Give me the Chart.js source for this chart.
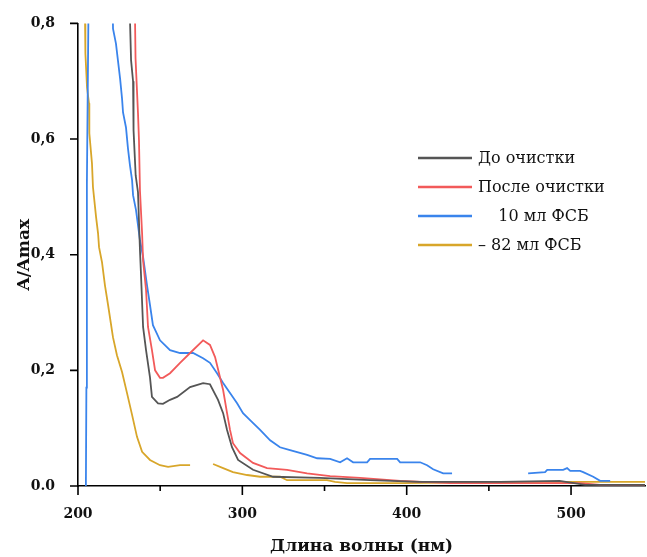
<!DOCTYPE html>
<html><head><meta charset="utf-8">
<script src="https://cdn.jsdelivr.net/npm/chart.js@4"></script>
<style>html,body{margin:0;padding:0;background:#fff}</style>
</head><body>
<canvas id="c" width="647" height="557"></canvas>
<script>
const seriesLabels = ["До очистки", "После очистки", "    10 мл ФСБ", "– 82 мл ФСБ"];
const seriesColors = ["#555555", "#f25a5a", "#3a84ec", "#d8a62a"];
const xTitle = "Длина волны (нм)";
const yTitle = "A/Amax";
const xTicks = [200, 300, 400, 500];
const xMinorTicks = [250, 350, 450];
const yTicks = [0, 0.2, 0.4, 0.6, 0.8];
const yTickLabels = ["0.0", "0,2", "0,4", "0,6", "0,8"];

const beforeX = [231.2,232.3,233.5,233.8,235.1,236.5,237.7,238.3,239.6,241.4,243.8,245.0,248.7,251.7,256.0,260.3,268.2,276.1,280.3,285.2,288.3,290.7,293.7,297.4,306.5,318.7,347.0,377.7,408.0,457.0,493.0,508.6,545.0];
const beforeY = [0.85,0.736,0.70,0.615,0.537,0.508,0.408,0.368,0.275,0.235,0.188,0.154,0.143,0.142,0.149,0.154,0.171,0.178,0.176,0.149,0.126,0.097,0.067,0.045,0.028,0.016,0.014,0.010,0.007,0.007,0.009,0.002,0.002];

const afterX = [234.5,235.0,236.5,237.1,237.7,239.0,239.6,241.4,242.6,245.0,246.9,249.9,251.7,256.0,262.1,268.2,276.1,280.3,283.4,286.4,288.3,290.7,292.5,294.3,298.6,306.5,315.0,327.2,339.4,353.4,371.6,396.0,426.4,505.5,517.7,545.0];
const afterY = [0.85,0.74,0.645,0.598,0.511,0.437,0.39,0.339,0.275,0.235,0.20,0.187,0.187,0.195,0.213,0.23,0.252,0.244,0.223,0.188,0.166,0.126,0.097,0.074,0.057,0.040,0.031,0.028,0.022,0.017,0.014,0.009,0.005,0.005,0.002,0.002];

const pbs10X = [204.8,205.1,205.4,206.3,206.8,221.0,221.3,223.1,224.3,225.6,226.8,227.4,229.2,230.4,231.6,232.9,233.5,235.3,236.5,237.7,239.6,242.0,243.8,245.6,249.9,256.0,262.1,270.0,276.1,280.3,284.6,288.3,292.5,296.8,300.4,304.7,310.8,316.9,322.9,329.0,339.4,345.5,353.4,359.5,363.7,367.4,375.9,377.7,394.2,396.0,408.2,412.4,416.1,422.2,427.6,430.0,473.9,484.2,485.5,495.2,497.6,499.5,505.5,507.4,513.5,517.7,523.8];
const pbs10Y = [0,0.17,0.52,0.80,1.2,0.85,0.791,0.765,0.736,0.705,0.670,0.646,0.620,0.584,0.555,0.529,0.503,0.477,0.451,0.425,0.396,0.347,0.313,0.278,0.252,0.235,0.230,0.230,0.221,0.213,0.195,0.178,0.161,0.143,0.126,0.114,0.097,0.079,0.067,0.062,0.054,0.048,0.047,0.041,0.048,0.041,0.041,0.047,0.047,0.041,0.041,0.036,0.029,0.022,0.022,null,0.022,0.024,0.028,0.028,0.031,0.026,0.026,0.024,0.016,0.009,0.009];

const pbs82X = [203.9,204.3,204.5,205.5,206.7,206.9,208.5,209.1,211.0,212.2,212.8,214.6,216.4,218.3,221.3,223.7,226.8,229.8,232.9,235.9,239.0,243.8,249.9,254.8,262.1,268.2,275.0,282.2,288.3,294.3,302.9,310.8,323.0,327.2,351.5,356.4,363.7,397.8,469.0,545.0];
const pbs82Y = [1.2,0.80,0.748,0.689,0.662,0.61,0.558,0.517,0.465,0.437,0.413,0.387,0.347,0.313,0.257,0.226,0.197,0.161,0.123,0.085,0.059,0.045,0.036,0.033,0.036,0.036,null,0.038,0.031,0.024,0.019,0.016,0.016,0.010,0.010,0.007,0.005,0.005,0.007,0.007];

const seriesX = [beforeX, afterX, pbs10X, pbs82X];
const seriesY = [beforeY, afterY, pbs10Y, pbs82Y];

const FONT = "'DejaVu Serif', 'Liberation Serif', serif";

const datasets = seriesLabels.map((lab, i) => ({
  label: lab,
  data: seriesX[i].map((x, j) => ({x: x, y: seriesY[i][j]})),
  borderColor: seriesColors[i],
  backgroundColor: seriesColors[i],
  borderWidth: 1.8,
  pointRadius: 0,
  tension: 0,
  fill: false,
  spanGaps: false
}));

const axisDecor = {
  id: 'axisDecor',
  afterDraw(chart) {
    const ctx = chart.ctx;
    const xs = chart.scales.x, ys = chart.scales.y;
    const a = chart.chartArea;
    ctx.save();
    ctx.strokeStyle = '#000';
    ctx.lineWidth = 1.6;
    ctx.beginPath();
    xTicks.forEach(v => { const p = xs.getPixelForValue(v); ctx.moveTo(p, a.bottom); ctx.lineTo(p, a.bottom + 9); });
    xMinorTicks.forEach(v => { const p = xs.getPixelForValue(v); ctx.moveTo(p, a.bottom); ctx.lineTo(p, a.bottom + 5); });
    yTicks.forEach(v => { const p = ys.getPixelForValue(v); ctx.moveTo(a.left - 8, p); ctx.lineTo(a.left, p); });
    ctx.stroke();
    // titles
    ctx.fillStyle = '#111';
    ctx.font = "bold 17px " + FONT;
    ctx.textAlign = 'center';
    ctx.textBaseline = 'middle';
    ctx.fillText(xTitle, (a.left + a.right) / 2, 547);
    ctx.save();
    ctx.translate(25, (a.top + a.bottom) / 2);
    ctx.rotate(-Math.PI / 2);
    ctx.fillText(yTitle, 0, 0);
    ctx.restore();
    // legend
    ctx.font = "16px " + FONT;
    ctx.textAlign = 'left';
    chart.data.datasets.forEach((ds, i) => {
      const y = 158 + i * 29;
      ctx.strokeStyle = ds.borderColor;
      ctx.lineWidth = 2.4;
      ctx.beginPath(); ctx.moveTo(418, y); ctx.lineTo(472, y); ctx.stroke();
      ctx.fillStyle = '#111';
      ctx.fillText(ds.label, 478, y + 1);
    });
    ctx.restore();
  }
};

new Chart(document.getElementById('c'), {
  type: 'line',
  data: { datasets: datasets },
  options: {
    responsive: false,
    animation: false,
    devicePixelRatio: 1,
    layout: { padding: { top: 23, right: 2, left: 0, bottom: 0 } },
    plugins: { legend: { display: false }, tooltip: { enabled: false } },
    scales: {
      x: {
        type: 'linear', min: 200, max: 545,
        afterBuildTicks: s => { s.ticks = xTicks.map(v => ({value: v})); },
        afterFit: s => { s.height = 71; },
        grid: { display: false },
        border: { display: true, color: '#000', width: 1.6 },
        ticks: { color: '#111', padding: 12, maxRotation: 0, autoSkip: false, font: { family: FONT, size: 14, weight: 'bold' } }
      },
      y: {
        type: 'linear', min: 0, max: 0.8,
        afterBuildTicks: s => { s.ticks = yTicks.map(v => ({value: v})); },
        afterFit: s => { s.width = 78; },
        grid: { display: false },
        border: { display: true, color: '#000', width: 1.6 },
        ticks: { color: '#111', padding: 15, autoSkip: false, font: { family: FONT, size: 14, weight: 'bold' },
          callback: (v, i) => yTickLabels[i] }
      }
    }
  },
  plugins: [axisDecor]
});
</script>
</body></html>
